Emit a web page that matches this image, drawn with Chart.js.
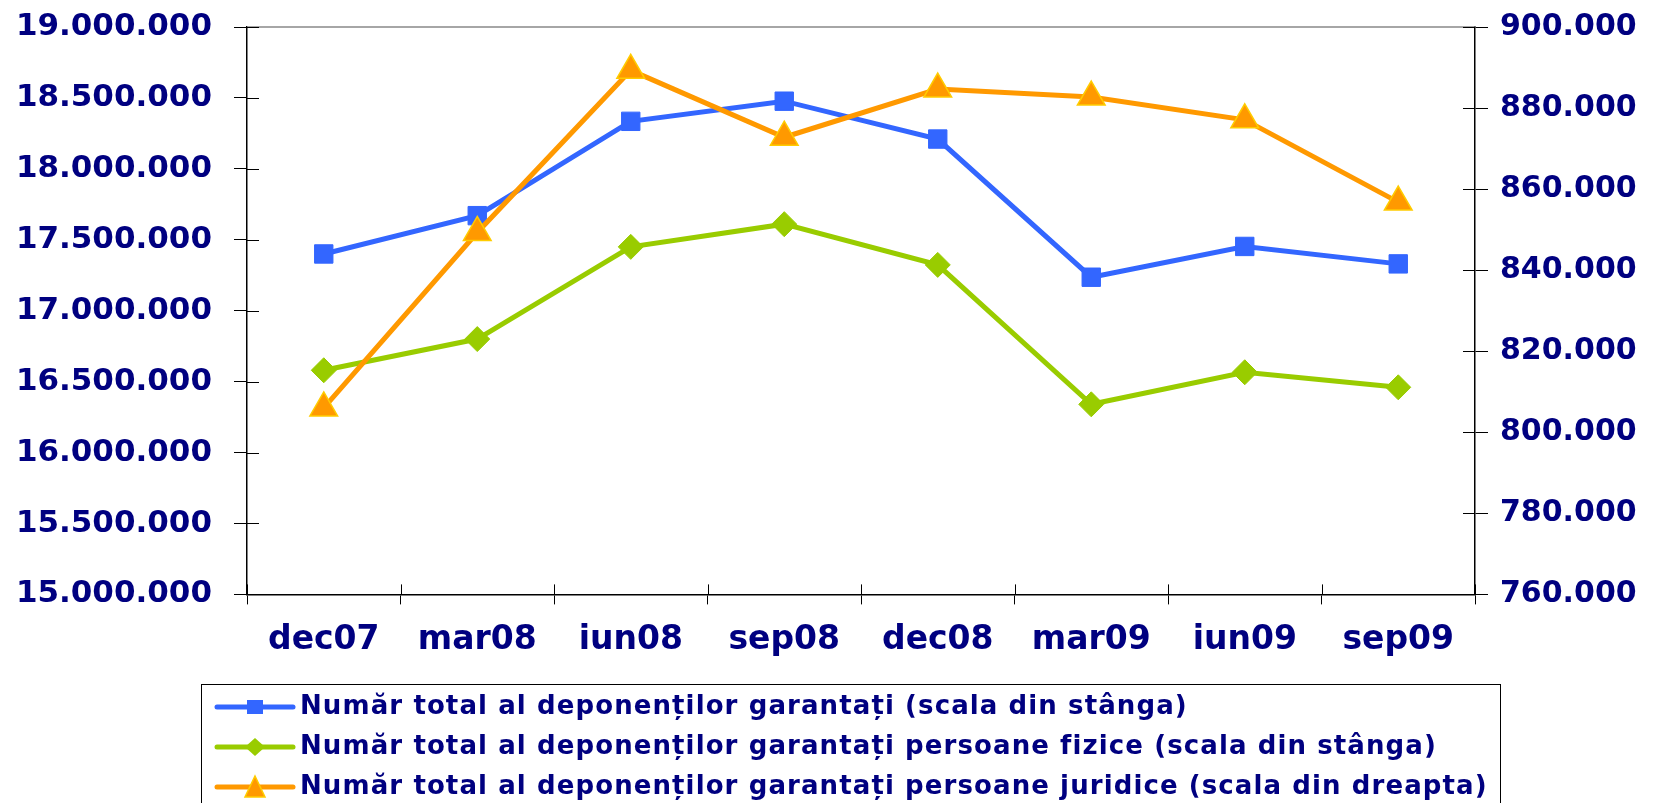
<!DOCTYPE html>
<html>
<head>
<meta charset="utf-8">
<script src="https://cdn.jsdelivr.net/npm/chart.js@4/dist/chart.umd.min.js"></script>
<style>
html,body{margin:0;padding:0;background:#ffffff;}
#wrap{width:1659px;height:803px;position:relative;}
</style>
</head>
<body>
<div id="wrap"><canvas id="c" width="1659" height="803"></canvas></div>
<script>
// ---- data ----
const categories = ['dec07', 'mar08', 'iun08', 'sep08', 'dec08', 'mar09', 'iun09', 'sep09'];
const seriesNames = [
  'Număr total al deponenților garantați (scala din stânga)',
  'Număr total al deponenților garantați persoane fizice (scala din stânga)',
  'Număr total al deponenților garantați persoane juridice (scala din dreapta)'
];
const totalDeponenti   = [17400000, 17670000, 18335000, 18477000, 18210000, 17236000, 17453000, 17330000];
const persoaneFizice   = [16580000, 16800000, 17450000, 17610000, 17323000, 16340000, 16566000, 16460000];
const persoaneJuridice = [806000, 849300, 889300, 872800, 884700, 882700, 877100, 856800];
const leftTickLabels  = ['15.000.000', '15.500.000', '16.000.000', '16.500.000', '17.000.000', '17.500.000', '18.000.000', '18.500.000', '19.000.000'];
const rightTickLabels = ['760.000', '780.000', '800.000', '820.000', '840.000', '860.000', '880.000', '900.000'];

// ---- styles ----
const NAVY = '#000080';
const BLUE = '#3366FF';
const GREEN = '#99CC00';
const ORANGE = '#FF9900';
const GOLD = '#FFCC00';
const FONT = 'DejaVu Sans';
const LEGEND_SPACING = '1.1px';

function makeIcon(color, shape, border) {
  const cv = document.createElement('canvas');
  cv.width = 82; cv.height = 26;
  const c = cv.getContext('2d');
  c.strokeStyle = color; c.lineWidth = 5; c.lineCap = 'round';
  c.beginPath(); c.moveTo(3, 13); c.lineTo(79, 13); c.stroke();
  c.fillStyle = color;
  c.beginPath();
  if (shape === 'rect') {
    c.rect(33, 6, 16, 14);
  } else if (shape === 'rectRot') {
    c.moveTo(41, 4); c.lineTo(51, 13); c.lineTo(41, 22); c.lineTo(31, 13); c.closePath();
  } else {
    c.moveTo(41, 2); c.lineTo(51, 23); c.lineTo(31, 23); c.closePath();
  }
  c.fill();
  if (border) { c.strokeStyle = border; c.lineWidth = 1.5; c.stroke(); }
  return cv;
}

const icons = [makeIcon(BLUE, 'rect'), makeIcon(GREEN, 'rectRot'), makeIcon(ORANGE, 'triangle', GOLD)];

const frame = {
  id: 'frame',
  afterLayout(chart) {
    const lg = chart.legend;
    if (!lg) return;
    lg.left = 209; lg.top = 680; lg.right = 1659; lg.bottom = 1200;
    lg.width = lg.right - lg.left; lg.height = lg.bottom - lg.top;
    if (!lg._wrapped) {
      const orig = lg.draw.bind(lg);
      lg.draw = function (area) {
        const c = chart.ctx;
        c.save();
        c.letterSpacing = LEGEND_SPACING;
        try { orig(area); } catch (e) {}
        c.restore();
      };
      lg._wrapped = true;
    }
  },
  beforeDatasetsDraw(chart) {
    const {ctx, chartArea: a, scales} = chart;
    ctx.save();
    ctx.strokeStyle = '#888888'; ctx.lineWidth = 1.5;
    ctx.beginPath(); ctx.moveTo(a.left, a.top); ctx.lineTo(a.right, a.top); ctx.stroke();
    ctx.strokeStyle = '#000000'; ctx.lineWidth = 1;
    ctx.beginPath();
    scales.y.ticks.forEach((t, i) => { const y = Math.round(scales.y.getPixelForTick(i)) + 0.5; ctx.moveTo(a.left, y); ctx.lineTo(a.left + 12, y); });
    scales.y1.ticks.forEach((t, i) => { const y = Math.round(scales.y1.getPixelForTick(i)) + 0.5; ctx.moveTo(a.right - 12, y); ctx.lineTo(a.right, y); });
    const n = categories.length;
    for (let i = 0; i <= n; i++) { const x = Math.round(a.left + i * (a.right - a.left) / n) + 0.5; ctx.moveTo(x, a.bottom - 10); ctx.lineTo(x, a.bottom); }
    ctx.stroke();
    ctx.restore();
  },
  afterDraw(chart) {
    const lg = chart.legend;
    const ctx = chart.ctx;
    ctx.save();
    ctx.font = 'bold 26px "' + FONT + '"';
    ctx.letterSpacing = LEGEND_SPACING;
    let maxW = 0;
    seriesNames.forEach(s => { maxW = Math.max(maxW, ctx.measureText(s).width); });
    const textStart = lg.left + 14 + 64 + 13;
    const left = lg.left - 8, top = lg.top + 4, right = textStart + maxW + 12;
    ctx.strokeStyle = '#000000'; ctx.lineWidth = 1;
    ctx.strokeRect(Math.round(left) + 0.5, Math.round(top) + 0.5, Math.round(right - left), 200);
    ctx.restore();
  }
};

const fitLeft = (scale) => { scale.paddingTop = 0; scale.paddingBottom = 0; scale.width = 232; };
const fitRight = (scale) => { scale.paddingTop = 0; scale.paddingBottom = 0; scale.width = 175; };

new Chart(document.getElementById('c'), {
  type: 'line',
  data: {
    labels: categories,
    datasets: [
      {label: seriesNames[0], data: totalDeponenti, yAxisID: 'y', order: 3,
       borderColor: BLUE, backgroundColor: BLUE, borderWidth: 5,
       pointStyle: 'rect', pointRadius: 13, pointBorderWidth: 1, pointBorderColor: BLUE, pointBackgroundColor: BLUE},
      {label: seriesNames[1], data: persoaneFizice, yAxisID: 'y', order: 2,
       borderColor: GREEN, backgroundColor: GREEN, borderWidth: 5,
       pointStyle: 'rectRot', pointRadius: 12.5, pointBorderWidth: 1, pointBorderColor: GREEN, pointBackgroundColor: GREEN},
      {label: seriesNames[2], data: persoaneJuridice, yAxisID: 'y1', order: 1,
       borderColor: ORANGE, backgroundColor: ORANGE, borderWidth: 5,
       pointStyle: 'triangle', pointRadius: 16, pointBorderWidth: 1.5, pointBorderColor: GOLD, pointBackgroundColor: ORANGE}
    ]
  },
  options: {
    responsive: false,
    animation: false,
    events: [],
    layout: {padding: {left: 15, right: 9, top: 27, bottom: 127}},
    elements: {line: {tension: 0}},
    scales: {
      x: {
        type: 'category', offset: true,
        grid: {offset: true, drawOnChartArea: false, tickLength: 10, color: '#000000', lineWidth: 1},
        border: {display: true, color: '#000000', width: 1.5},
        ticks: {color: NAVY, font: {family: FONT, size: 33, weight: 'bold'}, padding: 16, maxRotation: 0, autoSkip: false}
      },
      y: {
        type: 'linear', position: 'left', min: 15000000, max: 19000000,
        afterFit: fitLeft,
        grid: {drawOnChartArea: false, tickLength: 13, color: '#000000', lineWidth: 1},
        border: {display: true, color: '#000000', width: 1.5},
        ticks: {stepSize: 500000, color: NAVY, font: {family: FONT, size: 31, weight: 'bold'}, padding: 22,
                callback: (v, i) => leftTickLabels[i]}
      },
      y1: {
        type: 'linear', position: 'right', min: 760000, max: 900000,
        afterFit: fitRight,
        grid: {drawOnChartArea: false, tickLength: 13, color: '#000000', lineWidth: 1},
        border: {display: true, color: '#000000', width: 1.5},
        ticks: {stepSize: 20000, color: NAVY, font: {family: FONT, size: 30, weight: 'bold'}, padding: 12,
                callback: (v, i) => rightTickLabels[i]}
      }
    },
    plugins: {
      tooltip: {enabled: false},
      legend: {
        display: true,
        position: 'chartArea',
        align: 'start',
        labels: {
          usePointStyle: true,
          pointStyleWidth: 64,
          padding: 14,
          color: NAVY,
          font: {family: FONT, size: 26, weight: 'bold'},
          generateLabels: (chart) => chart.data.datasets.map((ds, i) => ({
            text: ds.label, datasetIndex: i, hidden: false,
            pointStyle: icons[i], fillStyle: ds.borderColor, strokeStyle: ds.borderColor,
            lineWidth: 0, fontColor: NAVY
          }))
        }
      }
    }
  },
  plugins: [frame]
});
</script>
</body>
</html>
